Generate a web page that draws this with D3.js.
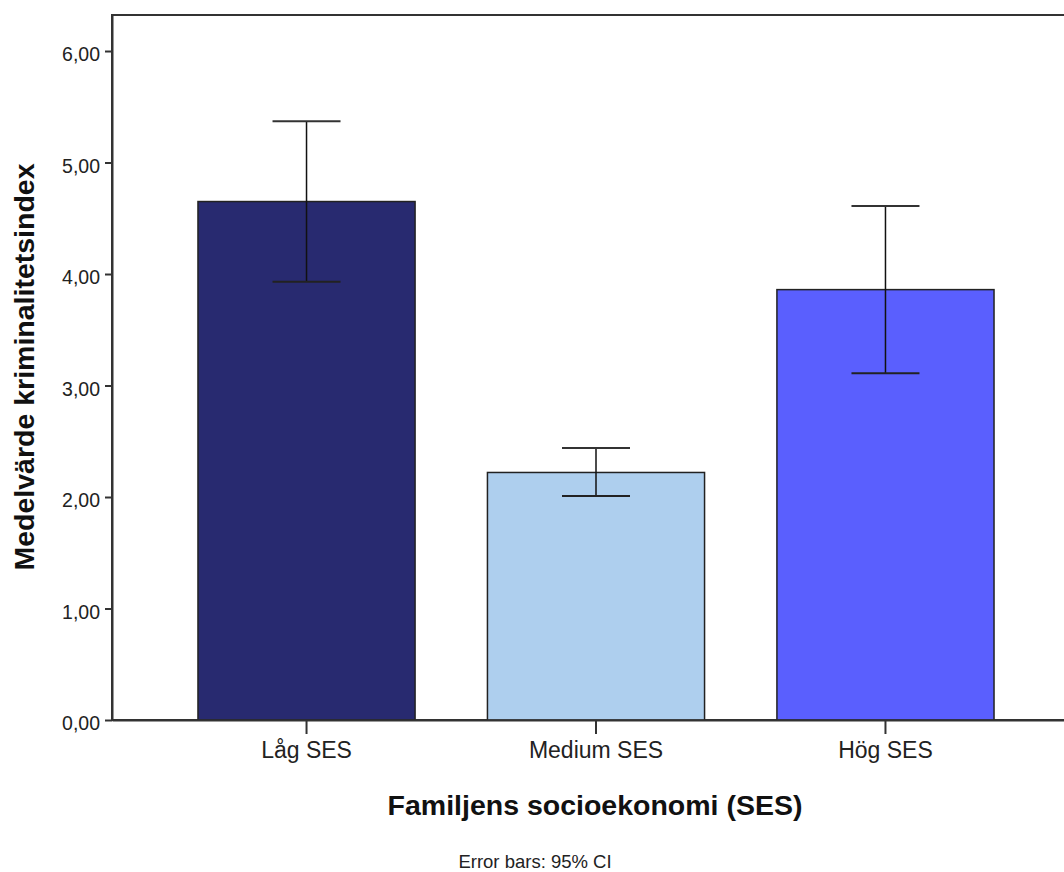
<!DOCTYPE html>
<html><head><meta charset="utf-8">
<script src="https://cdn.jsdelivr.net/npm/d3@7"></script>
<style>html,body{margin:0;padding:0;background:#fff;overflow:hidden}</style>
</head><body>
<svg id="c" width="1064" height="872"></svg>
<script>
const categories = ["Låg SES", "Medium SES", "Hög SES"];
const means = [4.65, 2.22, 3.86];
const ciLow = [3.93, 2.01, 3.11];
const ciHigh = [5.37, 2.44, 4.61];
const yTicks = [0, 1, 2, 3, 4, 5, 6];
const colors = ["#282a70", "#aecfee", "#5a5ffe"];

const svg = d3.select("#c");
const mLeft = 112, mTop = 15, mBottom = 720, mRight = 1080;
const font = "'Liberation Sans', Arial, sans-serif";

const x = d3.scaleBand().domain(categories).range([mLeft, mRight]).paddingInner(0.25).paddingOuter(0.297);
const y = d3.scaleLinear().domain([0, 6.323]).range([mBottom, mTop]);

// frame
svg.append("rect").attr("x", mLeft).attr("y", mTop).attr("width", mRight - mLeft).attr("height", mBottom - mTop)
  .attr("fill", "#fff").attr("stroke", "#333").attr("stroke-width", 2);

const data = categories.map((c, i) => ({c, m: means[i], lo: ciLow[i], hi: ciHigh[i], col: colors[i]}));

svg.selectAll("rect.bar").data(data).enter().append("rect").attr("class", "bar")
  .attr("x", d => x(d.c)).attr("width", x.bandwidth())
  .attr("y", d => y(d.m)).attr("height", d => y(0) - y(d.m))
  .attr("fill", d => d.col).attr("stroke", "#222").attr("stroke-width", 1.5);

const capW = 68;
const eb = svg.selectAll("g.eb").data(data).enter().append("g");
eb.append("line").attr("x1", d => x(d.c) + x.bandwidth() / 2).attr("x2", d => x(d.c) + x.bandwidth() / 2)
  .attr("y1", d => y(d.lo)).attr("y2", d => y(d.hi)).attr("stroke", "#111").attr("stroke-width", 1.5);
eb.append("line").attr("x1", d => x(d.c) + x.bandwidth() / 2 - capW / 2).attr("x2", d => x(d.c) + x.bandwidth() / 2 + capW / 2)
  .attr("y1", d => y(d.lo)).attr("y2", d => y(d.lo)).attr("stroke", "#222").attr("stroke-width", 2);
eb.append("line").attr("x1", d => x(d.c) + x.bandwidth() / 2 - capW / 2).attr("x2", d => x(d.c) + x.bandwidth() / 2 + capW / 2)
  .attr("y1", d => y(d.hi)).attr("y2", d => y(d.hi)).attr("stroke", "#333").attr("stroke-width", 2);

// y axis
const yAxis = d3.axisLeft(y).tickValues(yTicks).tickSizeInner(7).tickSizeOuter(0).tickPadding(5)
  .tickFormat(d => d3.format(".2f")(d).replace(".", ","));
const gy = svg.append("g").attr("transform", `translate(${mLeft},0)`).call(yAxis);
gy.select(".domain").attr("stroke", "#333").attr("stroke-width", 2);
gy.selectAll(".tick line").attr("stroke", "#333").attr("stroke-width", 2);
gy.selectAll(".tick text").attr("font-family", font).attr("font-size", 19.5).attr("fill", "#222").attr("dy", "0.5em");

// x axis
const xAxis = d3.axisBottom(x).tickSizeInner(14).tickSizeOuter(0).tickPadding(8);
const gx = svg.append("g").attr("transform", `translate(0,${mBottom})`).call(xAxis);
gx.select(".domain").attr("stroke", "#333").attr("stroke-width", 2);
gx.selectAll(".tick line").attr("stroke", "#333").attr("stroke-width", 2);
gx.selectAll(".tick text").attr("font-family", font).attr("font-size", 23).attr("fill", "#222");

// titles
svg.append("text").attr("x", 595).attr("y", 815).attr("text-anchor", "middle")
  .attr("font-family", font).attr("font-weight", "bold").attr("font-size", 28.5).attr("fill", "#111")
  .text("Familjens socioekonomi (SES)");
svg.append("text").attr("transform", "translate(34,367) rotate(-90)").attr("text-anchor", "middle")
  .attr("font-family", font).attr("font-weight", "bold").attr("font-size", 28.5).attr("fill", "#111")
  .text("Medelvärde kriminalitetsindex");
svg.append("text").attr("x", 535).attr("y", 868).attr("text-anchor", "middle")
  .attr("font-family", font).attr("font-size", 18.5).attr("fill", "#222")
  .text("Error bars: 95% CI");
</script>
</body></html>
